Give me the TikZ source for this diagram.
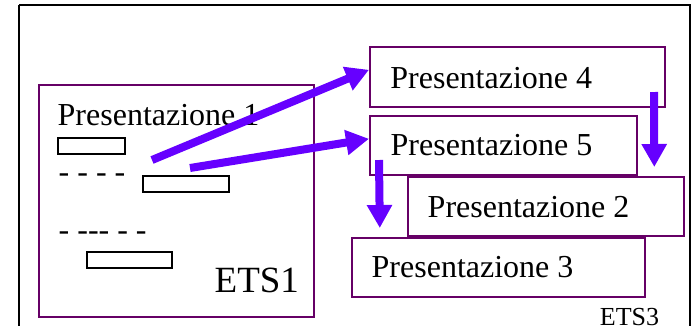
\documentclass[tikz,border=0pt]{standalone}
\usepackage{fontspec}
\setmainfont{Liberation Serif}
\usetikzlibrary{arrows.meta}
\definecolor{boxpurple}{RGB}{102,0,102}
\definecolor{arrowviolet}{RGB}{102,0,255}
\tikzset{
  frame/.style={draw=black, line width=1.8pt},
  etsbox/.style={draw=boxpurple, line width=1.6pt, fill=white, inner sep=0pt, anchor=north west},
  slot/.style={draw=black, line width=1.5pt, fill=white, inner sep=0pt, anchor=north west},
  label/.style={inner sep=0pt, anchor=base west, font=\fontsize{32}{38}\selectfont},
  flow/.style={draw=arrowviolet, line width=8pt, -{Triangle[length=23pt,width=24pt]}}
}
\begin{document}
\begin{tikzpicture}[x=1pt, y=-1pt]
  \useasboundingbox (0,0) rectangle (695,325);
  % outer frame (bottom edge runs off the page)
  \draw[frame] (19,5) -- (19,330) (19,5) -- (690,5) -- (690,330);

  % ETS1 window with its page sketch
  \node[etsbox, minimum width=275pt, minimum height=232pt] (ets1) at (38,84) {};
  \node[label] (t1) at (57.5,125) {Presentazione 1};
  \node[slot, minimum width=67pt, minimum height=16pt] (r1) at (57,137) {};
  \node[label] (d1) at (58.5,182) {- - - -};
  \node[slot, minimum width=86pt, minimum height=16pt] (r2) at (142,175) {};
  \node[label] (d2) at (58.5,240) {- -\kern0pt-\kern0pt- - -};
  \node[slot, minimum width=85pt, minimum height=16pt] (r3) at (86,251) {};
  \node[inner sep=0pt, anchor=base west, font=\fontsize{37}{44}\selectfont] (e1) at (214.5,292) {ETS1};

  % ETS3 presentations
  \node[etsbox, minimum width=295pt, minimum height=60pt] (p4) at (369,46) {};
  \node[label] (t4) at (390.2,88) {Presentazione 4};
  \node[etsbox, minimum width=267pt, minimum height=59pt] (p5) at (369,115) {};
  \node[label] (t5) at (390.5,155) {Presentazione 5};
  \node[etsbox, minimum width=276pt, minimum height=59pt] (p2) at (407,176) {};
  \node[label] (t2) at (427.5,217) {Presentazione 2};
  \node[etsbox, minimum width=293pt, minimum height=59pt] (p3) at (351,237) {};
  \node[label] (t3) at (371.5,277) {Presentazione 3};
  \node[inner sep=0pt, anchor=base west, font=\fontsize{26}{31}\selectfont] (e3) at (599.7,325) {ETS3};

  % flow arrows
  \coordinate (s1) at (152,160);
  \coordinate (s2) at (190,168);
  \coordinate (s3) at (654,92);
  \coordinate (s4) at (379,160);
  \draw[flow] (s1) -- ([yshift=7pt]p4.west);
  \draw[flow] (s2) -- ([yshift=6.5pt]p5.west);
  \draw[flow] (s3) -- ([xshift=108.5pt,yshift=9pt]p2.north);
  \draw[flow] (s4) -- ([xshift=-118.5pt,yshift=9pt]p3.north);
\end{tikzpicture}
\end{document}
